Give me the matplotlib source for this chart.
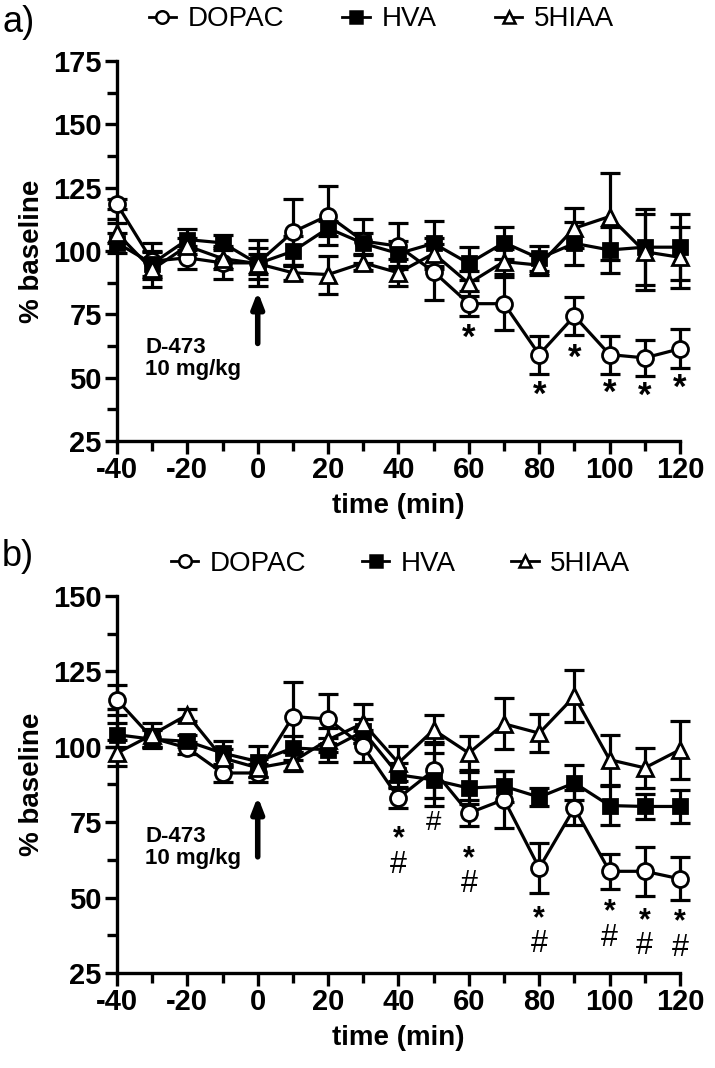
import matplotlib
matplotlib.use("Agg")
import matplotlib.pyplot as plt
from matplotlib.lines import Line2D

plt.rcParams['font.family'] = ['Liberation Sans', 'DejaVu Sans']
plt.rcParams['axes.unicode_minus'] = False
plt.rcParams['mathtext.fontset'] = 'custom'
plt.rcParams['mathtext.rm'] = 'Liberation Sans'
plt.rcParams['mathtext.bf'] = 'Liberation Sans:bold'

# sampling times (min)
time = [-40, -30, -20, -10, 0, 10, 20, 30, 40, 50, 60, 70, 80, 90, 100, 110, 120]

# panel a) % baseline, mean and SEM
dopac_a = [118.5, 96.0, 97.3, 95.3, 95.3, 107.5, 114.0, 103.9, 101.9, 91.8, 79.2, 79.2, 59.1, 74.3, 59.1, 57.8, 61.4]
dopac_a_err = [2, 7, 4.6, 6.5, 9, 13, 11.5, 8.6, 9, 11, 5, 10.5, 7.5, 7.5, 7.5, 7, 7.7]
hva_a = [103.2, 95, 104.5, 103.2, 95, 99.9, 109, 103, 99, 103, 95.1, 103.3, 97.1, 103, 100.4, 101.5, 101.5]
hva_a_err = [4, 5, 4, 3, 6, 6, 3, 4, 5, 9, 6.6, 6.3, 5, 8.6, 9, 15, 13]
hiaa_a = [107, 92.7, 102, 97, 95, 91.4, 90.7, 95.3, 91.4, 99, 87.2, 95.8, 94.4, 109, 113.6, 99.7, 97.5]
hiaa_a_err = [4, 7, 3, 4, 4, 3, 7.5, 3, 5.3, 6, 5, 5, 4, 8, 17, 15, 12]

# panel b)
dopac_b = [115.6, 102.9, 99.6, 91.3, 91.3, 110, 109.2, 100.1, 83, 92.2, 78, 82.5, 59.8, 79.7, 58.7, 58.7, 56.2]
dopac_b_err = [5, 3, 2, 3, 3, 11.6, 8.3, 5.3, 3.3, 9.3, 4.4, 9.5, 8.3, 5.8, 5.9, 8.1, 7.1]
hva_b = [104, 102.5, 101.8, 97.9, 95.1, 99.6, 99, 105.1, 90.7, 89, 86.3, 86.9, 83.3, 88, 80.5, 80.2, 80.2]
hva_b_err = [4, 3, 2, 4, 5, 4, 4, 4, 4, 8.8, 5.2, 5.1, 3, 5.8, 6.4, 4.2, 5.6]
hiaa_b = [97.9, 104, 110.6, 96.3, 93, 95.1, 102.3, 107.8, 94.6, 105.6, 97.9, 107.6, 104.5, 116.7, 95.7, 93, 99]
hiaa_b_err = [4.4, 4, 2, 3, 3, 3, 4, 6.4, 5.8, 4.8, 5.5, 8.4, 6.3, 8.6, 8.3, 6.6, 9.7]

# significance marks (* vs baseline, # vs other treatment); y = centre of the upper glyph
sig_a_t = [60, 80, 90, 100, 110, 120]
sig_a_lab = ['*', '*', '*', '*', '*', '*']
sig_a_y = [69, 46.7, 61.1, 47.3, 46, 49.3]
sig_b_t = [40, 50, 60, 80, 100, 110, 120]
sig_b_lab = ['*#', '#', '*#', '*#', '*#', '*#', '*#']
sig_b_y = [73, 75.3, 66.5, 46.6, 48.8, 46, 45.5]

series_names = ['DOPAC', 'HVA', '5HIAA']

LW = 2.3
styles = {
    'DOPAC': dict(marker='o', mfc='white', ms=11.5),
    'HVA': dict(marker='s', mfc='black', ms=9.5),
    '5HIAA': dict(marker='^', mfc='white', ms=11.5),
}


def add_sig(ax, t, y, lab):
    if lab == '*':
        # asterisk glyph sits high in its box
        ax.annotate('*', (t, y), xytext=(0, -6.5), textcoords='offset points',
                    ha='center', va='center', fontsize=25, fontweight='bold')
    elif lab == '#':
        ax.annotate('#', (t, y), xytext=(0, -1.5), textcoords='offset points',
                    ha='center', va='center', fontsize=20)
    else:
        ax.annotate(r'$\mathbf{*}$' + '\n#', (t, y), xytext=(0, 3.5), textcoords='offset points',
                    ha='center', va='top', fontsize=22, linespacing=0.84)


def draw_panel(ax, series, ymax, sig, text_y):
    for name, (vals, errs) in zip(series_names, series):
        st = styles[name]
        ax.errorbar(time, vals, yerr=errs, fmt='none', ecolor='black', elinewidth=LW,
                    capsize=7.5, capthick=LW, clip_on=False, zorder=2)
        ax.plot(time, vals, color='black', lw=LW, marker=st['marker'], mfc=st['mfc'],
                mec='black', mew=2.0, ms=st['ms'], clip_on=False, zorder=3)

    for t, lab, y in zip(*sig):
        add_sig(ax, t, y, lab)

    # injection arrow
    ax.annotate('', xy=(0, text_y[1]), xytext=(0, text_y[0]),
                arrowprops=dict(arrowstyle='-|>,head_length=0.9,head_width=0.35', lw=4,
                                color='black', shrinkA=0, shrinkB=0))
    ax.text(-32, text_y[2], 'D-473\n10 mg/kg', ha='left', va='top', fontsize=16,
            fontweight='bold', linespacing=1.05)

    ax.set_xlim(-40, 120)
    ax.set_ylim(25, ymax)
    ax.set_xticks(range(-40, 121, 20))
    ax.set_xticks(range(-30, 121, 20), minor=True)
    ax.set_yticks(range(25, ymax + 1, 25))
    ax.set_yticks([v + 12.5 for v in range(25, ymax, 25)], minor=True)
    for s in ['top', 'right']:
        ax.spines[s].set_visible(False)
    for s in ['left', 'bottom']:
        ax.spines[s].set_linewidth(2.4)
    ax.tick_params(which='major', length=9, width=2.4, labelsize=21, pad=2)
    ax.tick_params(which='minor', length=7, width=2.4)
    for lab in ax.get_xticklabels() + ax.get_yticklabels():
        lab.set_fontweight('bold')
    ax.set_xlabel('time (min)', fontsize=20, fontweight='bold', labelpad=6)
    ax.set_ylabel('% baseline', fontsize=20, fontweight='bold', labelpad=6)


fig = plt.figure(figsize=(7.15, 10.68), dpi=100)
ax_a = fig.add_axes([0.1636, 0.5871, 0.7874, 0.3558])
ax_b = fig.add_axes([0.1636, 0.0890, 0.7874, 0.3530])

draw_panel(ax_a, [(dopac_a, dopac_a_err), (hva_a, hva_a_err), (hiaa_a, hiaa_a_err)], 175,
           (sig_a_t, sig_a_lab, sig_a_y), (63.5, 84, 66))
draw_panel(ax_b, [(dopac_b, dopac_b_err), (hva_b, hva_b_err), (hiaa_b, hiaa_b_err)], 150,
           (sig_b_t, sig_b_lab, sig_b_y), (63.5, 83.5, 73.8))

handles = [Line2D([0], [0], color='black', lw=2.0, marker=styles[n]['marker'], mfc=styles[n]['mfc'],
                  mec='black', mew=1.8, ms=9 if n != 'HVA' else 8) for n in series_names]
for ycen, xcen, sp in [(0.982, 0.533, 2.1), (0.472, 0.56, 2.0)]:
    fig.legend(handles, series_names, loc='center', bbox_to_anchor=(xcen, ycen), ncol=3,
               frameon=False, fontsize=20, handlelength=1.0, handletextpad=0.4, columnspacing=sp)

fig.text(0.003, 0.979, 'a)', fontsize=26, va='center', ha='left')
fig.text(0.003, 0.479, 'b)', fontsize=26, va='center', ha='left')

fig.savefig('out.png', dpi=100)
